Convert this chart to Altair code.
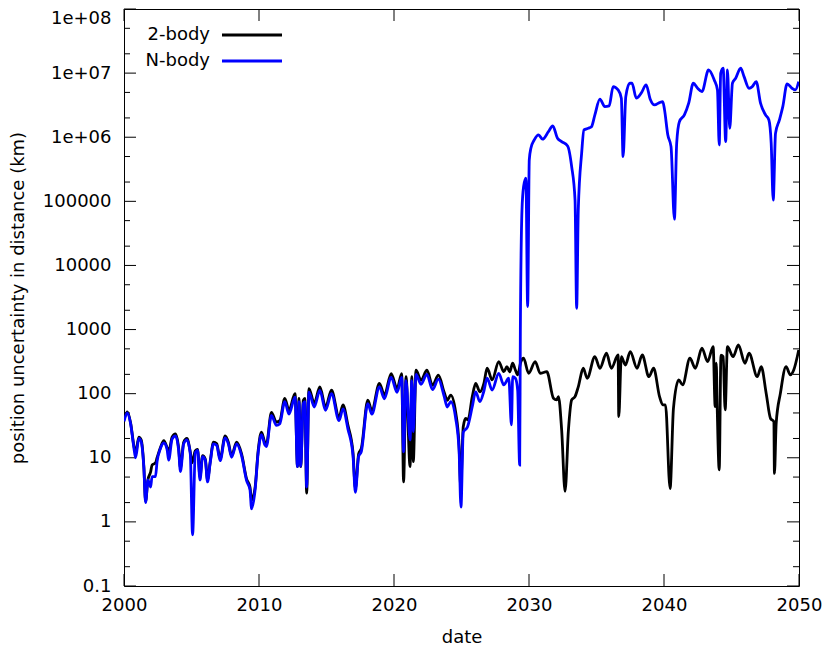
import altair as alt
import pandas as pd

# ---------------- data ----------------
years_2body = [
    2000.00, 2000.24, 2000.49, 2000.74, 2000.86, 2001.10, 2001.27, 2001.47, 2001.60, 2001.77,
    2001.97, 2002.08, 2002.33, 2002.45, 2002.70, 2002.95, 2003.19, 2003.31, 2003.56, 2003.81,
    2004.05, 2004.18, 2004.42, 2004.66, 2004.91, 2005.04, 2005.28, 2005.45, 2005.63, 2005.82,
    2006.02, 2006.19, 2006.38, 2006.63, 2006.87, 2007.12, 2007.49, 2007.73, 2007.97, 2008.34,
    2008.71, 2009.08, 2009.33, 2009.45, 2009.70, 2009.94, 2010.18, 2010.43, 2010.55, 2010.92,
    2011.29, 2011.54, 2011.91, 2012.22, 2012.67, 2012.85, 2012.96, 2013.09, 2013.28, 2013.40,
    2013.53, 2013.70, 2014.09, 2014.51, 2014.93, 2015.37, 2015.93, 2016.22, 2016.59, 2016.96,
    2017.14, 2017.38, 2017.58, 2018.06, 2018.36, 2018.92, 2019.29, 2019.79, 2020.23, 2020.57,
    2020.71, 2020.89, 2021.19, 2021.32, 2021.43, 2021.63, 2022.00, 2022.44, 2022.85, 2023.29,
    2023.71, 2023.95, 2024.20, 2024.57, 2024.82, 2024.94, 2025.13, 2025.31, 2025.48, 2025.80,
    2026.05, 2026.36, 2026.66, 2026.90, 2027.27, 2027.76, 2028.13, 2028.37, 2028.57, 2028.79,
    2028.99, 2029.16, 2029.40, 2029.60, 2029.97, 2030.46, 2030.83, 2031.32, 2031.81, 2032.05,
    2032.18, 2032.42, 2032.67, 2032.92, 2033.16, 2033.41, 2033.65, 2034.02, 2034.31, 2034.88,
    2035.25, 2035.74, 2036.10, 2036.60, 2036.65, 2036.84, 2037.14, 2037.50, 2038.00, 2038.39,
    2038.88, 2039.23, 2039.67, 2039.91, 2040.11, 2040.45, 2040.70, 2041.09, 2041.38, 2041.92,
    2042.32, 2042.81, 2043.23, 2043.64, 2043.79, 2043.87, 2043.94, 2044.09, 2044.22, 2044.38,
    2044.53, 2044.70, 2045.12, 2045.51, 2046.00, 2046.30, 2046.91, 2047.20, 2047.57, 2047.89,
    2048.14, 2048.18, 2048.31, 2048.62, 2049.04, 2049.36, 2049.61, 2049.98,
]
values_2body = [
    39, 52, 35, 15, 12, 21, 19, 7.3, 2.1, 4.5,
    6.0, 7.7, 8.3, 10, 14.5, 18.5, 14.5, 12.3, 21, 23.5,
    14, 7, 17.5, 20, 12.3, 8.3, 12.8, 13.5, 5, 10.8,
    9.6, 4.5, 8.5, 17.5, 16.5, 9.6, 22, 17.5, 10.8, 17.5,
    11.5, 4.7, 3.5, 2.2, 3.3, 13, 25, 17.5, 16.5, 51,
    36, 38, 84, 55, 100, 7.3, 84, 7.3, 79, 84,
    2.8, 120, 71, 127, 62, 113, 43, 67, 32, 12.3,
    3.3, 11.5, 14, 79, 55, 145, 95, 206, 120, 206,
    4.2, 184, 7.3, 184, 8.7, 232, 162, 232, 135, 194,
    106, 79, 95, 51, 15.5, 3.5, 30.5, 41, 39, 90,
    145, 107, 145, 249, 164, 316, 220, 264, 218, 298,
    234, 196, 316, 357, 208, 316, 208, 220, 85, 80,
    90, 27, 3.0, 27, 80, 90, 128, 249, 174, 378,
    249, 427, 249, 402, 44, 378, 280, 452, 249, 402,
    184, 249, 90, 67, 67, 3.3, 59, 164, 137, 357,
    249, 511, 316, 541, 63, 300, 63, 6.5, 400, 380,
    56, 541, 378, 575, 298, 427, 184, 264, 101, 41,
    36.6, 5.7, 34.5, 101, 264, 196, 234, 481,
]

years_nbody = [
    2000.00, 2000.24, 2000.49, 2000.74, 2000.86, 2001.10, 2001.27, 2001.47, 2001.60, 2001.77,
    2001.97, 2002.08, 2002.33, 2002.45, 2002.70, 2002.95, 2003.19, 2003.31, 2003.56, 2003.81,
    2004.05, 2004.18, 2004.42, 2004.66, 2004.91, 2005.08, 2005.28, 2005.45, 2005.63, 2005.82,
    2006.02, 2006.19, 2006.38, 2006.63, 2006.87, 2007.12, 2007.49, 2007.73, 2007.97, 2008.34,
    2008.71, 2009.08, 2009.33, 2009.45, 2009.70, 2009.94, 2010.18, 2010.43, 2010.55, 2010.92,
    2011.29, 2011.54, 2011.91, 2012.22, 2012.67, 2012.85, 2012.96, 2013.09, 2013.28, 2013.40,
    2013.53, 2013.70, 2014.09, 2014.51, 2014.93, 2015.37, 2015.93, 2016.22, 2016.59, 2016.96,
    2017.14, 2017.38, 2017.58, 2018.06, 2018.36, 2018.92, 2019.29, 2019.79, 2020.23, 2020.57,
    2020.71, 2020.89, 2021.19, 2021.32, 2021.43, 2021.63, 2022.00, 2022.44, 2022.85, 2023.29,
    2023.71, 2023.95, 2024.20, 2024.57, 2024.82, 2024.96, 2025.13, 2025.45, 2025.80, 2026.05,
    2026.36, 2026.66, 2026.90, 2027.27, 2027.76, 2028.13, 2028.50, 2028.70, 2028.79, 2028.99,
    2029.16, 2029.31, 2029.36, 2029.48, 2029.60, 2029.77, 2029.90, 2030.02, 2030.14, 2030.39,
    2030.71, 2031.00, 2031.44, 2031.76, 2032.11, 2032.42, 2032.86, 2033.16, 2033.41, 2033.53,
    2033.65, 2033.90, 2034.07, 2034.39, 2034.63, 2034.88, 2035.25, 2035.62, 2035.94, 2036.23,
    2036.60, 2036.84, 2036.97, 2037.17, 2037.46, 2037.63, 2037.95, 2038.31, 2038.68, 2038.98,
    2039.30, 2039.67, 2039.91, 2040.04, 2040.28, 2040.52, 2040.77, 2040.94, 2041.14, 2041.51,
    2041.83, 2042.17, 2042.49, 2042.81, 2043.30, 2043.72, 2043.96, 2044.09, 2044.20, 2044.38,
    2044.57, 2044.70, 2044.87, 2045.07, 2045.31, 2045.68, 2045.93, 2046.30, 2046.54, 2046.83,
    2047.15, 2047.52, 2047.77, 2047.94, 2048.09, 2048.26, 2048.55, 2048.80, 2049.12, 2049.48,
    2049.73, 2049.98,
]
values_nbody = [
    37, 50, 34, 14, 10, 20, 18, 7, 2.0, 4.5,
    3.5, 5.1, 5.1, 8.7, 14, 17, 13.5, 9.2, 19.5, 22,
    13, 6.1, 16.5, 19, 11.5, 0.63, 12, 13, 4.5, 10.4,
    9.2, 4.2, 8.2, 16.5, 15.5, 9, 20.5, 16.5, 10.2, 16.5,
    10.8, 4.4, 3.2, 1.6, 3.0, 12, 23, 16, 15, 46,
    32, 34, 75, 48, 88, 7.3, 75, 7.3, 70, 75,
    3.5, 106, 62, 112, 55, 100, 38, 58, 28, 11,
    2.9, 10.5, 12.5, 70, 48, 127, 83, 180, 105, 180,
    12.4, 160, 19, 160, 25.5, 200, 140, 200, 116, 168,
    92, 62, 75, 41, 13, 1.7, 25, 30.5, 63, 107,
    75, 110, 174, 114, 208, 137, 174, 32.5, 184, 174,
    114, 7.7, 1000, 73000, 170000, 229000, 2280, 443000, 673000, 908000,
    1090000, 931000, 1220000, 1500000, 964000, 854000, 731000, 348000, 105000, 2150,
    73500, 563000, 1300000, 1380000, 1460000, 2230000, 3920000, 3000000, 3080000, 6150000,
    5470000, 4060000, 498000, 4300000, 6950000, 6950000, 4060000, 4860000, 6540000, 3920000,
    3190000, 3470000, 3600000, 2670000, 1090000, 713000, 52600, 806000, 1750000, 2230000,
    3390000, 6950000, 5810000, 5140000, 11200000, 7830000, 5470000, 758000, 9960000, 11900000,
    854000, 11200000, 1380000, 6950000, 8320000, 11900000, 8810000, 5810000, 6150000, 7370000,
    3390000, 2230000, 1860000, 806000, 105000, 1150000, 1860000, 3000000, 6790000, 5810000,
    5470000, 7370000,
]

series_names = ["2-body", "N-body"]
series_colors = ["#000000", "#0000ff"]

x_ticks = [2000, 2010, 2020, 2030, 2040, 2050]
y_ticks = [0.1, 1, 10, 100, 1000, 10000, 100000, 1e6, 1e7, 1e8]
y_minor = [0.2, 0.5, 2, 5, 20, 50, 200, 500, 2000, 5000, 2e4, 5e4, 2e5, 5e5,
           2e6, 5e6, 2e7, 5e7]

# ---------------- chart ----------------
W, H = 675, 577
FONT = "DejaVu Sans"
FS = 18
LW = 2.8

xs = alt.Scale(domain=[2000, 2050], nice=False, zero=False)
ys = alt.Scale(type="log", domain=[0.1, 1e8], nice=False)

df2 = pd.DataFrame({"year": years_2body, "value": values_2body})
dfn = pd.DataFrame({"year": years_nbody, "value": values_nbody})

label_expr = ("datum.value >= 1000000 ? '1e+0' + format(log(datum.value)/LN10, '.0f')"
              " : format(datum.value, '')")

x_axis = alt.Axis(values=x_ticks, format="d", title="date", ticks=False, tickSize=0,
                  domain=False, grid=False, labelPadding=10, labelFlush=False,
                  labelOverlap=False,
                  labelFont=FONT, labelFontSize=FS, labelColor="black",
                  titleFont=FONT, titleFontSize=FS, titleFontWeight="normal",
                  titleColor="black", titleY=56, titleBaseline="alphabetic")
y_axis = alt.Axis(values=y_ticks, labelExpr=label_expr,
                  title="position uncertainty in distance (km)", ticks=False, tickSize=0,
                  domain=False, grid=False, labelPadding=13, labelFlush=False,
                  labelOverlap=False,
                  labelOffset={"condition": {"test": "datum.value >= 50000000", "value": 9},
                               "value": 0},
                  labelFont=FONT, labelFontSize=FS, labelColor="black",
                  titleFont=FONT, titleFontSize=FS, titleFontWeight="normal",
                  titleColor="black", titleX=-106, titleY=H / 2, titleAngle=270,
                  titleBaseline="middle", titleAlign="center")

X = alt.X("year:Q", scale=xs, axis=x_axis)
Y = alt.Y("value:Q", scale=ys, axis=y_axis)

line_2 = alt.Chart(df2).mark_line(color=series_colors[0], strokeWidth=LW,
                                  interpolate="monotone", clip=True).encode(x=X, y=Y)
line_n = alt.Chart(dfn).mark_line(color=series_colors[1], strokeWidth=LW,
                                  interpolate="monotone", clip=True).encode(x=X, y=Y)


def xtick_layer(vals, y0, y1):
    return alt.Chart(pd.DataFrame({"year": vals})).mark_rule(
        color="black", strokeWidth=1).encode(x=X, y=alt.value(y0), y2=alt.value(y1))


def ytick_layer(vals, x0, x1):
    return alt.Chart(pd.DataFrame({"value": vals})).mark_rule(
        color="black", strokeWidth=1).encode(y=Y, x=alt.value(x0), x2=alt.value(x1))


MAJ, MIN = 12, 6
ticks = [
    xtick_layer(x_ticks, H, H - MAJ),
    xtick_layer(x_ticks, 0, MAJ),
    ytick_layer(y_ticks, 0, MAJ),
    ytick_layer(y_ticks, W, W - MAJ),
    ytick_layer(y_minor, 0, MIN),
    ytick_layer(y_minor, W, W - MIN),
]

legend_layers = []
for i, (name, col) in enumerate(zip(series_names, series_colors)):
    ly = 26 + 26 * i
    ld = pd.DataFrame({"label": [name]})
    legend_layers.append(
        alt.Chart(ld).mark_text(align="right", baseline="middle", font=FONT,
                                fontSize=FS, color="black").encode(
            x=alt.value(86), y=alt.value(ly), text="label:N"))
    legend_layers.append(
        alt.Chart(ld).mark_rule(color=col, strokeWidth=LW).encode(
            x=alt.value(98), x2=alt.value(158), y=alt.value(ly)))

chart = alt.layer(*ticks, line_2, line_n, *legend_layers).properties(
    width=W, height=H,
    autosize=alt.AutoSizeParams(type="none"),
    padding={"left": 116, "top": 1, "right": 23, "bottom": 63},
    background="white",
).configure_view(stroke="black", strokeWidth=1)

chart.save("out.html", embed_options={"renderer": "svg", "actions": False})
